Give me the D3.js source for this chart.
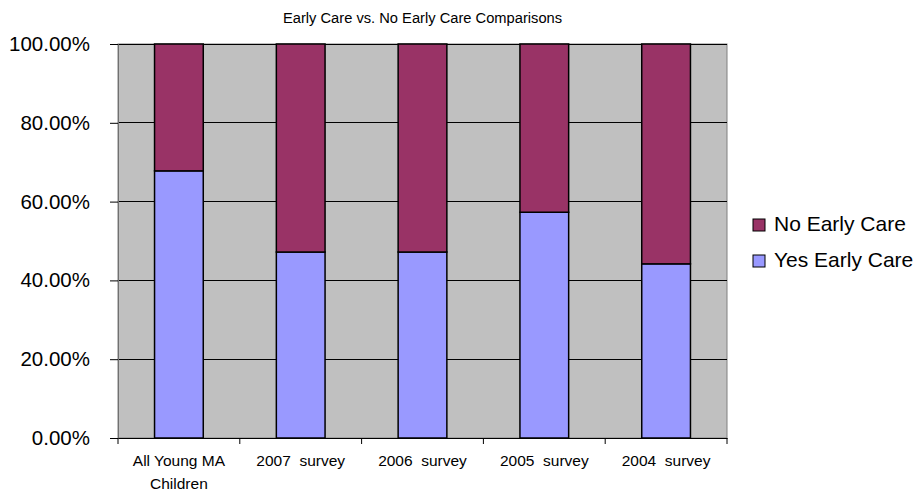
<!DOCTYPE html>
<html>
<head>
<meta charset="utf-8">
<script src="https://cdn.jsdelivr.net/npm/d3@7"></script>
<style>
  html, body { margin: 0; padding: 0; background: #fff; }
  svg text { font-family: Arial, "Liberation Sans", sans-serif; fill: #000; }
</style>
</head>
<body>
<svg id="chart" width="918" height="491"></svg>
<script>
// Survey groups along the x axis
const categories = ["All Young MA|Children", "2007  survey", "2006  survey", "2005  survey", "2004  survey"];
// Share of children with early care, in percent
const yesEarlyCare = [67.8, 47.2, 47.2, 57.3, 44.2];
// Share of children without early care, in percent
const noEarlyCare = yesEarlyCare.map(v => 100 - v);
const yTicks = [0, 20, 40, 60, 80, 100];
const seriesNames = ["No Early Care", "Yes Early Care"];
const seriesColors = { "No Early Care": "#993366", "Yes Early Care": "#9999FF" };

const svg = d3.select("#chart");
const plot = { left: 118, right: 727, top: 44, bottom: 438 };

const x = d3.scaleBand().domain(categories).range([plot.left, plot.right]).paddingInner(0.6).paddingOuter(0.3);
const xCat = d3.scaleBand().domain(categories).range([plot.left, plot.right]);
const y = d3.scaleLinear().domain([0, 100]).range([plot.bottom, plot.top]);

// Plot background
svg.append("rect")
  .attr("x", plot.left).attr("y", plot.top)
  .attr("width", plot.right - plot.left).attr("height", plot.bottom - plot.top)
  .attr("fill", "#C0C0C0").attr("stroke", "#808080").attr("stroke-width", 1);

// Horizontal gridlines
svg.append("g").selectAll("line").data(yTicks.filter(t => t > 0)).join("line")
  .attr("x1", plot.left).attr("x2", plot.right)
  .attr("y1", d => y(d)).attr("y2", d => y(d))
  .attr("stroke", "#000").attr("stroke-width", 1).attr("shape-rendering", "crispEdges");

// Stacked bars
const rows = categories.map((c, i) => ({ cat: c, yes: yesEarlyCare[i], no: noEarlyCare[i] }));
const stack = d3.stack().keys(["yes", "no"])(rows);
const keyName = { yes: "Yes Early Care", no: "No Early Care" };
svg.append("g").selectAll("g").data(stack).join("g")
  .attr("fill", d => seriesColors[keyName[d.key]])
  .selectAll("rect").data(d => d).join("rect")
  .attr("x", d => x(d.data.cat))
  .attr("width", x.bandwidth())
  .attr("y", d => y(d[1]))
  .attr("height", d => y(d[0]) - y(d[1]))
  .attr("stroke", "#000").attr("stroke-width", 1.5);

// Y axis
const yAxis = svg.append("g").attr("transform", `translate(${plot.left},0)`)
  .call(d3.axisLeft(y).tickValues(yTicks).tickFormat(d => d3.format(".2f")(d) + "%").tickSize(8).tickPadding(20));
yAxis.select(".domain").attr("stroke", "#707070");
yAxis.selectAll(".tick line").attr("stroke", "#000");
yAxis.selectAll("text").attr("font-size", "20.5px").attr("font-family", "Arial, 'Liberation Sans', sans-serif");

// X axis
const xAxis = svg.append("g").attr("transform", `translate(0,${plot.bottom})`)
  .call(d3.axisBottom(xCat).tickSize(0).tickFormat(""));
xAxis.select(".domain").attr("stroke", "#000");
xAxis.selectAll(".tick").remove();
const boundaries = categories.map(c => xCat(c)).concat([plot.right]);
xAxis.selectAll("line.sep").data(boundaries).join("line").attr("class", "sep")
  .attr("x1", d => d).attr("x2", d => d).attr("y1", 0).attr("y2", 6)
  .attr("stroke", "#000");
const xl = xAxis.selectAll("text.cat").data(categories).join("text").attr("class", "cat")
  .attr("text-anchor", "middle").attr("font-size", "15.5px")
  .style("white-space", "pre")
  .attr("transform", d => `translate(${xCat(d) + xCat.bandwidth() / 2},0)`);
xl.selectAll("tspan").data(d => d.split("|")).join("tspan")
  .attr("x", 0).attr("y", (d, i) => 28 + i * 23).text(d => d);

// Title
svg.append("text").attr("x", (plot.left + plot.right) / 2).attr("y", 23)
  .attr("text-anchor", "middle").attr("font-size", "14.7px")
  .text("Early Care vs. No Early Care Comparisons");

// Legend
const legend = svg.append("g").selectAll("g").data(seriesNames).join("g")
  .attr("transform", (d, i) => `translate(753,${219 + i * 36})`);
legend.append("rect").attr("width", 12).attr("height", 12)
  .attr("fill", d => seriesColors[d]).attr("stroke", "#000").attr("stroke-width", 1);
legend.append("text").attr("x", 21).attr("y", 11.5).attr("font-size", "21px").text(d => d);
</script>
</body>
</html>
